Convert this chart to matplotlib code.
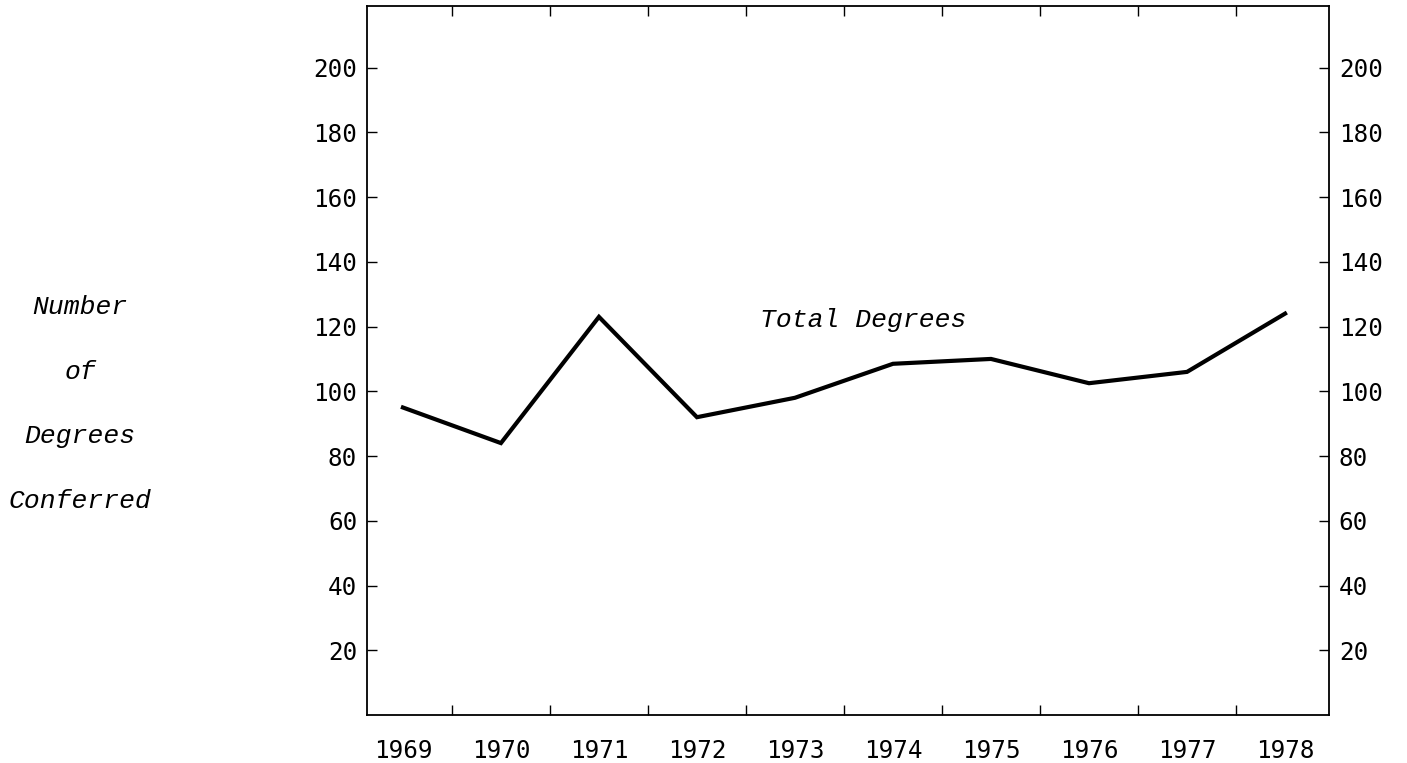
import matplotlib
matplotlib.use('Agg')
import matplotlib.pyplot as plt

years = [1969, 1970, 1971, 1972, 1973, 1974, 1975, 1976, 1977, 1978]
total_degrees = [95, 84, 123, 92, 98, 108.5, 110, 102.5, 106, 124]
y_ticks = [20, 40, 60, 80, 100, 120, 140, 160, 180, 200]
ylabel_lines = ['Number', 'of', 'Degrees', 'Conferred']

tick_font = 'DejaVu Sans Mono'
label_font = 'Liberation Mono'

fig = plt.figure(figsize=(14.07, 7.63), dpi=100)
ax = fig.add_axes([0.2608, 0.0629, 0.6838, 0.9291])

ax.plot(years, total_degrees, color='black', linewidth=3.0, solid_joinstyle='miter')

ax.set_xlim(1968.633, 1978.449)
ax.set_ylim(0, 219)

# year labels sit between the tick marks
ax.set_xticks([y + 0.5 for y in years[:-1]])
ax.set_xticklabels([])
ax.set_xticks(years, minor=True)
ax.set_xticklabels([str(y) for y in years], minor=True, fontfamily=tick_font, fontsize=17.5)
ax.tick_params(axis='x', which='major', direction='in', length=7, width=1, top=True, bottom=True)
ax.tick_params(axis='x', which='minor', length=0, pad=17)

ax.set_yticks(y_ticks)
ax.set_yticklabels([str(v) for v in y_ticks], fontfamily=tick_font, fontsize=17.5)
ax.tick_params(axis='y', direction='in', length=7, width=1, left=True, right=True,
               labelleft=True, labelright=True, pad=7)

for s in ax.spines.values():
    s.set_linewidth(1.3)
    s.set_color('black')

ax.text(760, 763 - 327, 'Total Degrees', transform=None, fontfamily=label_font,
        style='italic', fontsize=19, va='baseline', ha='left')

baselines = [314, 379, 443, 508]
for line, yb in zip(ylabel_lines, baselines):
    fig.text(80 / 1407, 1 - yb / 763, line, fontfamily=label_font, style='italic',
             fontsize=19, va='baseline', ha='center')

fig.savefig('out.png', dpi=100)
